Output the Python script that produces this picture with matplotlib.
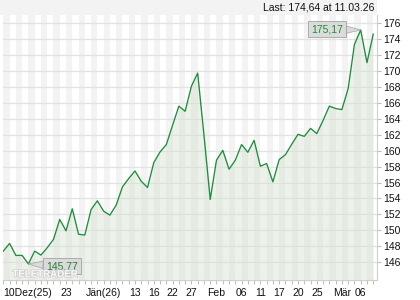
import matplotlib
matplotlib.use("Agg")
import matplotlib.pyplot as plt
import matplotlib.patheffects as pe
from matplotlib.patches import Rectangle
import numpy as np

plt.rcParams['font.family'] = ['Liberation Sans', 'DejaVu Sans']

values = [147.38, 148.35, 146.84, 146.84, 145.77, 147.38, 146.88, 147.80, 148.85, 151.36,
          149.93, 152.70, 149.50, 149.40, 152.60, 153.70, 152.40, 151.90, 153.15, 155.45,
          156.50, 157.45, 156.16, 155.37, 158.50, 159.84, 160.77, 163.20, 165.60, 164.95,
          168.10, 169.75, 162.00, 153.87, 158.80, 160.05, 157.67, 158.80, 160.77, 159.80,
          161.30, 158.05, 158.38, 156.08, 158.88, 159.50, 160.80, 162.06, 161.80, 162.80,
          162.15, 163.80, 165.60, 165.30, 165.16, 167.80, 173.35, 175.17, 171.06, 174.64]
tick_pos = [0, 10, 16, 21, 24, 27, 30, 34, 38, 41, 44, 47, 50, 54, 57]
tick_labels = ['10Dez(25)', '23', 'Jän(26)', '13', '16', '22', '27', 'Feb', '06', '11',
               '17', '20', '25', 'Mär', '06']
y_ticks = list(range(146, 177, 2))
last_text = 'Last: 174,64 at 11.03.26'

x = np.arange(len(values))
fig = plt.figure(figsize=(4.2, 3.0), dpi=100)
ax = fig.add_axes([3/420, 20/300, 374/420, 265/300])

# top band
fig.patches.append(Rectangle((0, 285/300), 377/420, 15/300, transform=fig.transFigure,
                             facecolor='#f3f3f3', edgecolor='none', zorder=0))
fig.text(374/420, 292/300, last_text, ha='right', va='center', fontsize=7.5, color='#111111')

ymin, ymax = 143.75, 177.05
ax.set_ylim(ymin, ymax)
ax.set_xlim(-0.05, len(values) - 1 + 0.6)

for i in range(-2, len(values) + 1, 2):
    ax.axvspan(i, i + 1, facecolor='#f3f3f3', edgecolor='none', zorder=0)

for yt in y_ticks:
    ax.axhline(yt, color='#e2e2e2', lw=0.9, zorder=1)

ax.fill_between(x, values, ymin, color='#d5e3d0', alpha=0.45, lw=0, zorder=2)
ax.plot(x, values, color='#1e8c3c', lw=0.95, zorder=3)

ax.yaxis.tick_right()
ax.set_yticks(y_ticks)
ax.set_yticklabels([str(v) for v in y_ticks])
ax.tick_params(axis='y', length=3, width=0.8, color='#c0c0c0', pad=1.5, labelsize=7.5,
               labelcolor='#111111')
ax.set_xticks(x, minor=True)
ax.set_xticks(tick_pos)
ax.set_xticklabels(tick_labels)
ax.tick_params(axis='x', which='both', length=3, width=0.8, color='#c0c0c0', pad=3,
               labelsize=7.5, labelcolor='#111111')
ax.get_xticklabels()[0].set_ha('left')

for s in ['top', 'left']:
    ax.spines[s].set_visible(False)
for s in ['bottom', 'right']:
    ax.spines[s].set_color('#cfcfcf')
    ax.spines[s].set_linewidth(0.8)

# watermark
ax.text(0.025, 0.012, 'TELETRADER', transform=ax.transAxes, fontsize=7, fontweight='bold',
        color='white', zorder=6, alpha=0.9,
        path_effects=[pe.withStroke(linewidth=1.0, foreground='#c8c8c8')])

imax = int(np.argmax(values))
imin = int(np.argmin(values))
box = dict(boxstyle='square,pad=0.3', fc='#d9d9d9', ec='#a6a6a6', lw=0.7, alpha=0.9)
arrow = dict(arrowstyle='wedge,tail_width=0.7', fc='#d9d9d9', ec='#a6a6a6', lw=0.6,
             shrinkA=0, shrinkB=0, alpha=0.9)
ax.annotate(f'{values[imax]:.2f}'.replace('.', ','), xy=(imax, values[imax]),
            xytext=(-24.5, 0.5), textcoords='offset points', ha='center', va='center',
            fontsize=7.5, color='#1e8c3c', bbox=box, arrowprops=arrow, zorder=5)
ax.annotate(f'{values[imin]:.2f}'.replace('.', ','), xy=(imin, values[imin]),
            xytext=(24.5, -1.5), textcoords='offset points', ha='center', va='center',
            fontsize=7.5, color='#2a7a34', bbox=box, arrowprops=arrow, zorder=5)

fig.savefig('out.png', dpi=100)
